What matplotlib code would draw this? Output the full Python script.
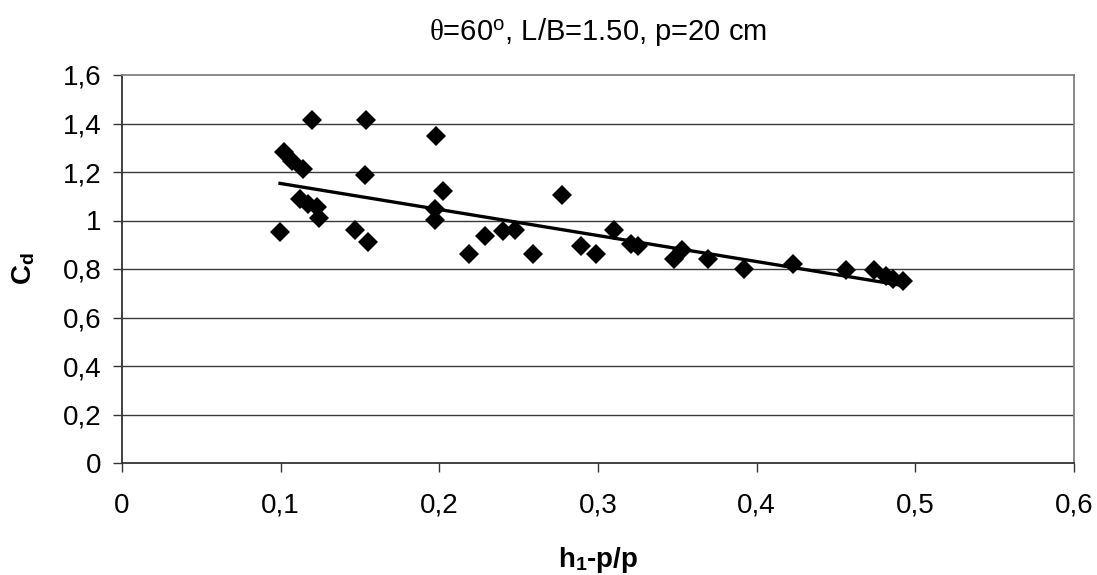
import matplotlib
matplotlib.use("Agg")
import matplotlib.pyplot as plt
from matplotlib.ticker import FuncFormatter

plt.rcParams['font.family'] = ['Liberation Sans', 'DejaVu Sans']
plt.rcParams['mathtext.fontset'] = 'custom'
plt.rcParams['mathtext.rm'] = 'Liberation Sans'
plt.rcParams['mathtext.it'] = 'Liberation Serif'
plt.rcParams['mathtext.bf'] = 'Liberation Sans:bold'

x_vals = [0.0996, 0.102, 0.107, 0.112, 0.114, 0.117, 0.120, 0.123, 0.124,
          0.147, 0.153, 0.154, 0.155, 0.197, 0.197, 0.198, 0.202, 0.2185,
          0.229, 0.240, 0.248, 0.259, 0.277, 0.289, 0.299, 0.310, 0.321,
          0.325, 0.348, 0.353, 0.3695, 0.392, 0.423, 0.456, 0.474, 0.4815,
          0.486, 0.492]
cd_vals = [0.952, 1.281, 1.247, 1.089, 1.211, 1.069, 1.414, 1.055, 1.011,
           0.962, 1.189, 1.415, 0.911, 1.003, 1.048, 1.350, 1.121, 0.860,
           0.937, 0.955, 0.962, 0.860, 1.105, 0.893, 0.860, 0.962, 0.904,
           0.895, 0.842, 0.879, 0.842, 0.798, 0.822, 0.794, 0.794, 0.770,
           0.760, 0.750]
trend_x = [0.0996, 0.491]
trend_y = [1.153, 0.733]

x_ticks = [0, 0.1, 0.2, 0.3, 0.4, 0.5, 0.6]
y_ticks = [0, 0.2, 0.4, 0.6, 0.8, 1.0, 1.2, 1.4, 1.6]

fig = plt.figure(figsize=(10.97, 5.75), dpi=100)
ax = fig.add_axes([122/1097, 1-463/575, (1074-122)/1097, (463-75)/575])

ax.plot(x_vals, cd_vals, linestyle='none', marker='D', markersize=10,
        color='black', markeredgewidth=0, zorder=3)
ax.plot(trend_x, trend_y, color='black', linewidth=2.4, zorder=4)

ax.set_xlim(0, 0.6)
ax.set_ylim(0, 1.6)
ax.set_xticks(x_ticks)
ax.set_yticks(y_ticks)

def fmt(v, pos):
    s = ('%.1f' % v).rstrip('0').rstrip('.')
    return s.replace('.', ',')

ax.xaxis.set_major_formatter(FuncFormatter(fmt))
ax.yaxis.set_major_formatter(FuncFormatter(fmt))

for y in y_ticks[1:-1]:
    ax.axhline(y, color='#3a3a3a', linewidth=1.0, zorder=1)

ax.spines['top'].set_color('#808080')
ax.spines['right'].set_color('#808080')
ax.spines['left'].set_color('#333333')
ax.spines['bottom'].set_color('#333333')
for s in ax.spines.values():
    s.set_linewidth(1.3)

ax.tick_params(axis='both', direction='out', length=6.5, width=1, color='#333333',
               labelsize=20)
ax.tick_params(axis='y', pad=8)
ax.tick_params(axis='x', pad=15)

ax.set_title(r'$\theta$=60$^{\mathrm{o}}$, L/B=1.50, p=20 cm', fontsize=21, pad=25)
ax.set_xlabel(r'h$_\mathbf{1}$-p/p', fontsize=20, fontweight='bold', labelpad=19)
ax.set_ylabel(r'C$_\mathbf{d}$', fontsize=20, fontweight='bold', labelpad=19)

fig.savefig('out.png', dpi=100)
